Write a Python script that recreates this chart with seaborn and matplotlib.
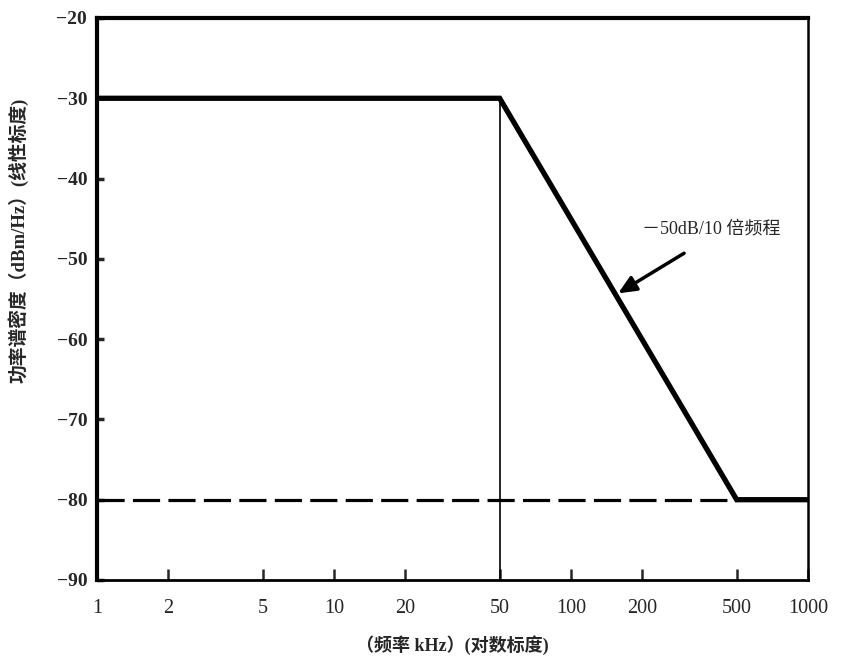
import numpy as np
import pandas as pd
import matplotlib
matplotlib.use("Agg")
import matplotlib.pyplot as plt
import seaborn as sns

# Power spectral density mask (kHz, dBm/Hz)
freq_khz = [1, 50, 500, 1000]
psd_dbm = [-30, -30, -80, -80]

# Noise floor reference (dashed)
floor_freq = [1, 500]
floor_psd = [-80, -80]

x_ticks = [1, 2, 5, 10, 20, 50, 100, 200, 500, 1000]
y_ticks = [-20, -30, -40, -50, -60, -70, -80, -90]

corner_khz = 50
slope_label = "－50dB/10 倍频程"

sns.set_theme(style="white")
plt.rcParams['font.family'] = ['Liberation Serif', 'Noto Sans CJK SC', 'DejaVu Sans']

fig = plt.figure(figsize=(8.41, 6.59), dpi=100)
ax = fig.add_axes([0.1153, 0.1199, 0.8455, 0.8528])

mask = pd.DataFrame({"f": freq_khz, "p": psd_dbm})
floor = pd.DataFrame({"f": floor_freq, "p": floor_psd})

sns.lineplot(data=floor, x="f", y="p", ax=ax, color="black", lw=2.3,
             dashes=False, linestyle=(0, (8.5, 2.6)), zorder=2)
sns.lineplot(data=mask, x="f", y="p", ax=ax, color="black", lw=3.8,
             zorder=3, solid_joinstyle="miter")
ax.plot([corner_khz, corner_khz], [-90, -30], color="black", lw=1.2, zorder=1)

ax.set_xscale("log")
ax.set_xlim(1, 1000)
ax.set_ylim(-90, -20)
ax.set_xticks(x_ticks)
ax.set_xticklabels([str(v) for v in x_ticks])
ax.minorticks_off()
ax.set_yticks(y_ticks)
ax.set_yticklabels(["−%d" % abs(v) for v in y_ticks])

for lbl in ax.get_xticklabels():
    lbl.set_fontsize(14.5)
for lbl in ax.get_yticklabels():
    lbl.set_fontsize(14)
    lbl.set_fontweight("bold")

ax.tick_params(axis="x", direction="in", length=8, width=1.8, pad=14, bottom=True)
ax.tick_params(axis="y", direction="in", length=5, width=2.5, pad=7, left=True)

for side, w in {"left": 3.0, "top": 3.0, "right": 1.8, "bottom": 2.0}.items():
    ax.spines[side].set_color("black")
    ax.spines[side].set_linewidth(w)

cjk = ['Liberation Serif', 'Noto Sans CJK SC']
ax.set_xlabel("（频率 kHz）(对数标度)", fontsize=13, fontweight="bold", family=cjk)
ax.set_ylabel("功率谱密度（dBm/Hz）(线性标度)", fontsize=13.5, fontweight="bold", family=cjk)
ax.xaxis.label.set_verticalalignment("center")
ax.yaxis.label.set_verticalalignment("center")
ax.xaxis.set_label_coords(0.5, -0.116)
ax.yaxis.set_label_coords(-0.111, 0.605)

ax.annotate("", xy=(158, -54.3), xytext=(300, -49.3),
            arrowprops=dict(arrowstyle="-|>,head_length=0.9,head_width=0.4",
                            color="black", lw=2.5, shrinkA=0, shrinkB=0))
ax.text(390, -46.3, slope_label, fontsize=13, ha="center", va="center", family=cjk)

fig.savefig("out.png", dpi=100, facecolor="white")
